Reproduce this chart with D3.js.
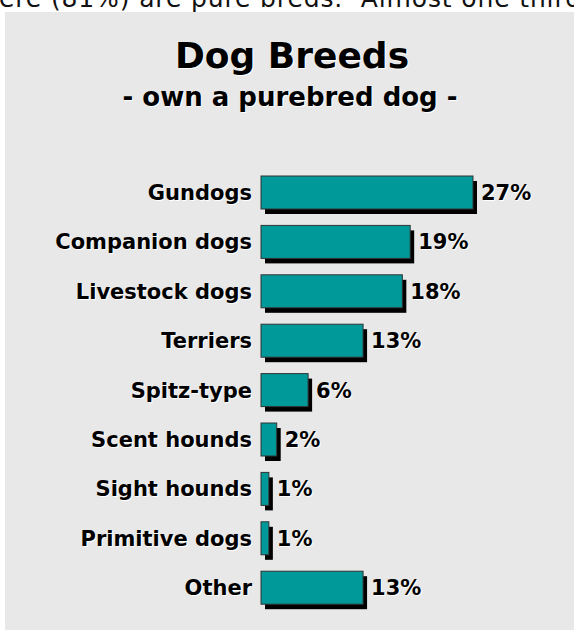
<!DOCTYPE html>
<html>
<head>
<meta charset="utf-8">
<script src="https://cdn.jsdelivr.net/npm/d3@7"></script>
<style>
  html, body { margin: 0; padding: 0; background: #ffffff; }
  svg { display: block; }
  text { font-family: "DejaVu Sans", Verdana, sans-serif; }
</style>
</head>
<body>
<svg id="chart" width="574" height="630"></svg>
<script>
// Share of purebred dog owners by breed group (%)
const categories = ["Gundogs", "Companion dogs", "Livestock dogs", "Terriers", "Spitz-type",
                    "Scent hounds", "Sight hounds", "Primitive dogs", "Other"];
const values = [27, 19, 18, 13, 6, 2, 1, 1, 13];
const title = "Dog Breeds";
const subtitle = "- own a purebred dog -";
const leadText = "ere (81%) are pure breds.  Almost one third";

const svg = d3.select("#chart");

// Running text above the chart panel
svg.append("text")
  .attr("x", -1).attr("y", 7)
  .attr("font-size", 25)
  .attr("fill", "#111")
  .style("white-space", "pre")
  .attr("textLength", 582)
  .attr("lengthAdjust", "spacing")
  .text(leadText);

// Grey panel
svg.append("rect")
  .attr("x", 5).attr("y", 12)
  .attr("width", 569).attr("height", 618)
  .attr("fill", "#e8e8e8");

// Text with a faint light edge
function embossed(sel, x, y, size, txt, anchor) {
  sel.append("text").attr("x", x + 1).attr("y", y + 1)
    .attr("text-anchor", anchor).attr("font-size", size).attr("font-weight", 700)
    .attr("fill", "#ffffff").text(txt);
  sel.append("text").attr("x", x).attr("y", y)
    .attr("text-anchor", anchor).attr("font-size", size).attr("font-weight", 700)
    .attr("fill", "#000").text(txt);
}
embossed(svg, 292, 68, 36, title, "middle");
embossed(svg, 290, 106, 26, subtitle, "middle");

const x = d3.scaleLinear().domain([0, 27]).range([261, 473]);
const y = d3.scaleBand().domain(categories).range([176, 604.2]).paddingInner(0.332).paddingOuter(0);

const rows = svg.append("g").selectAll("g").data(categories).join("g");

// Drop shadow
rows.append("rect")
  .attr("x", d => x(0) + 4)
  .attr("y", d => y(d) + 5)
  .attr("width", (d, i) => x(values[i]) - x(0))
  .attr("height", y.bandwidth())
  .attr("fill", "#000");

// Bar
rows.append("rect")
  .attr("x", d => x(0))
  .attr("y", d => y(d))
  .attr("width", (d, i) => x(values[i]) - x(0))
  .attr("height", y.bandwidth())
  .attr("fill", "#009999")
  .attr("stroke", "#333")
  .attr("stroke-width", 1);

// Category and value labels
rows.each(function (d, i) {
  const g = d3.select(this);
  const base = y(d) + y.bandwidth() / 2 + 7.5;
  embossed(g, x(0) - 9, base, 21, d, "end");
  embossed(g, x(values[i]) + 8, base, 21, values[i] + "%", "start");
});
</script>
</body>
</html>
